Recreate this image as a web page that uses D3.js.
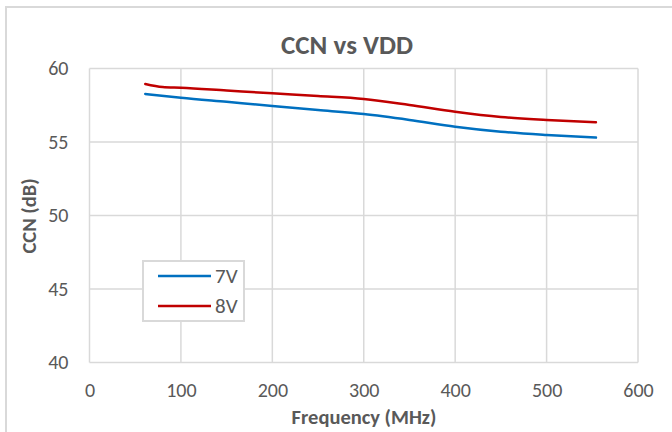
<!DOCTYPE html>
<html><head><meta charset="utf-8">
<script src="https://cdn.jsdelivr.net/npm/d3@7"></script>
<style>
html,body{margin:0;padding:0;background:#fff;}
svg{display:block;}
text{font-family:Carlito,Calibri,"Liberation Sans Narrow","Liberation Sans",sans-serif;fill:#595959;}
</style></head>
<body><svg id="c" width="672" height="432"></svg>
<script>
const freq7 = [61, 100, 150, 200, 250, 300, 350, 400, 450, 500, 554];
const ccn7  = [58.27, 58.01, 57.73, 57.45, 57.18, 56.9, 56.5, 56.04, 55.7, 55.48, 55.3];
const freq8 = [61, 80, 100, 150, 200, 250, 300, 350, 400, 450, 500, 554];
const ccn8  = [58.95, 58.74, 58.69, 58.5, 58.31, 58.13, 57.93, 57.52, 57.06, 56.7, 56.5, 56.34];
const seriesNames = ["7V", "8V"];
const xTicks = [0, 100, 200, 300, 400, 500, 600];
const yTicks = [40, 45, 50, 55, 60];
const title = "CCN vs VDD";
const xTitle = "Frequency (MHz)";
const yTitle = "CCN (dB)";

const colors = ["#0070C0", "#C00000"];
const FONT = "Carlito,Calibri,'Liberation Sans Narrow','Liberation Sans',sans-serif";
const svg = d3.select("#c");
const m = {left: 89.5, right: 638, top: 68.5, bottom: 362.5};
const x = d3.scaleLinear().domain([0, 600]).range([m.left, m.right]);
const y = d3.scaleLinear().domain([40, 60]).range([m.bottom, m.top]);

// outer chart border
svg.append("rect").attr("x", 6).attr("y", 7).attr("width", 680).attr("height", 440)
  .attr("fill", "#fff").attr("stroke", "#d9d9d9").attr("stroke-width", 2);

// gridlines
const grid = svg.append("g");
grid.selectAll(".gx").data(xTicks).join("line")
  .attr("x1", d => x(d)).attr("x2", d => x(d)).attr("y1", m.top).attr("y2", m.bottom)
  .attr("stroke", "#d9d9d9").attr("stroke-width", 1.5);
grid.selectAll(".gy").data(yTicks).join("line")
  .attr("y1", d => y(d)).attr("y2", d => y(d)).attr("x1", m.left).attr("x2", m.right)
  .attr("stroke", "#d9d9d9").attr("stroke-width", 1.5);

// axes (labels only)
const xAxis = svg.append("g").attr("transform", `translate(0,${m.bottom})`)
  .call(d3.axisBottom(x).tickValues(xTicks).tickSize(0).tickPadding(20).tickFormat(d3.format("d")));
xAxis.select(".domain").remove();
xAxis.selectAll("text").attr("font-size", 20).attr("fill", "#595959").style("font-family", FONT);
const yAxis = svg.append("g").attr("transform", `translate(${m.left},0)`)
  .call(d3.axisLeft(y).tickValues(yTicks).tickSize(0).tickPadding(21).tickFormat(d3.format("d")));
yAxis.select(".domain").remove();
yAxis.selectAll("text").attr("font-size", 20).attr("fill", "#595959").style("font-family", FONT);

// lines
const line = d3.line().x(d => x(d[0])).y(d => y(d[1])).curve(d3.curveMonotoneX);
const data = [d3.zip(freq7, ccn7), d3.zip(freq8, ccn8)];
data.forEach((s, i) => {
  svg.append("path").attr("d", line(s)).attr("fill", "none")
    .attr("stroke", colors[i]).attr("stroke-width", 2.5).attr("stroke-linecap", "round");
});

// titles
svg.append("text").attr("x", 347).attr("y", 54).attr("text-anchor", "middle")
  .attr("font-size", 27).attr("font-weight", "bold").text(title);
svg.append("text").attr("x", 364).attr("y", 424).attr("text-anchor", "middle")
  .attr("font-size", 20.5).attr("font-weight", "bold").text(xTitle);
svg.append("text").attr("transform", "translate(36,216) rotate(-90)").attr("text-anchor", "middle")
  .attr("font-size", 20.5).attr("font-weight", "bold").text(yTitle);

// legend
const lg = svg.append("g");
lg.append("rect").attr("x", 143).attr("y", 261).attr("width", 101).attr("height", 60)
  .attr("fill", "#fff").attr("stroke", "#d9d9d9").attr("stroke-width", 2);
seriesNames.forEach((n, i) => {
  const yy = 276 + i * 30;
  lg.append("line").attr("x1", 158).attr("x2", 211).attr("y1", yy).attr("y2", yy)
    .attr("stroke", colors[i]).attr("stroke-width", 2.5);
  lg.append("text").attr("x", 215).attr("y", yy + 7).attr("font-size", 21).text(n);
});
</script></body></html>
